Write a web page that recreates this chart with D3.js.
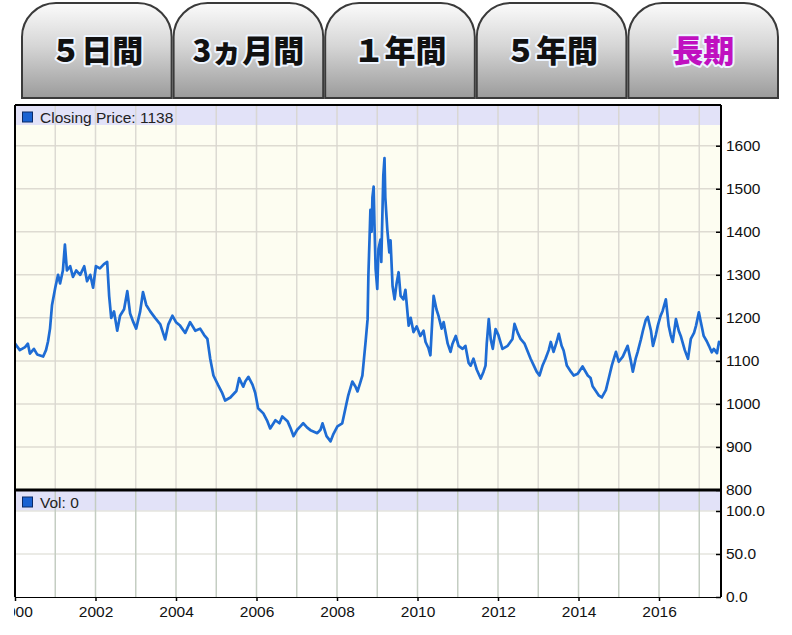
<!DOCTYPE html>
<meta charset="utf-8">
<script src="https://d3js.org/d3.v7.min.js"></script>
<style>
  body { margin: 0; background: #fff; }
  svg text { font-family: "Liberation Sans", Arial, sans-serif; }
</style>
<div id="chart"></div>
<script>

// tabs
var tabLabels = ["５日間", "3ヵ月間", "１年間", "５年間", "長期"];
var activeTab = "長期";

// closing price (decimal year / price)
var years = [
  2000.00, 2000.12, 2000.25, 2000.32, 2000.37, 2000.47, 2000.55, 2000.70, 2000.77, 2000.82,
  2000.87, 2000.92, 2001.00, 2001.07, 2001.12, 2001.19, 2001.24, 2001.29, 2001.37, 2001.44,
  2001.52, 2001.62, 2001.72, 2001.79, 2001.87, 2001.94, 2002.01, 2002.11, 2002.21, 2002.29,
  2002.34, 2002.39, 2002.46, 2002.54, 2002.61, 2002.71, 2002.79, 2002.86, 2002.94, 2003.01,
  2003.11, 2003.18, 2003.26, 2003.36, 2003.48, 2003.61, 2003.73, 2003.81, 2003.91, 2004.00,
  2004.10, 2004.23, 2004.35, 2004.48, 2004.60, 2004.70, 2004.78, 2004.85, 2004.93, 2005.05,
  2005.15, 2005.22, 2005.35, 2005.50, 2005.57, 2005.67, 2005.72, 2005.80, 2005.90, 2005.97,
  2006.04, 2006.17, 2006.27, 2006.34, 2006.47, 2006.57, 2006.64, 2006.77, 2006.84, 2006.92,
  2007.01, 2007.09, 2007.16, 2007.26, 2007.34, 2007.44, 2007.51, 2007.59, 2007.64, 2007.74,
  2007.84, 2007.91, 2008.01, 2008.13, 2008.21, 2008.28, 2008.38, 2008.46, 2008.51, 2008.58,
  2008.63, 2008.71, 2008.76, 2008.78, 2008.81, 2008.83, 2008.86, 2008.88, 2008.91, 2008.93,
  2008.96, 2009.00, 2009.03, 2009.08, 2009.10, 2009.13, 2009.15, 2009.18, 2009.20, 2009.25,
  2009.30, 2009.33, 2009.38, 2009.43, 2009.48, 2009.53, 2009.58, 2009.65, 2009.70, 2009.78,
  2009.83, 2009.90, 2009.98, 2010.07, 2010.15, 2010.20, 2010.27, 2010.32, 2010.37, 2010.40,
  2010.47, 2010.52, 2010.60, 2010.65, 2010.75, 2010.82, 2010.87, 2010.95, 2011.02, 2011.12,
  2011.19, 2011.27, 2011.32, 2011.39, 2011.47, 2011.57, 2011.64, 2011.69, 2011.72, 2011.77,
  2011.82, 2011.87, 2011.94, 2012.01, 2012.11, 2012.24, 2012.36, 2012.41, 2012.49, 2012.56,
  2012.66, 2012.74, 2012.81, 2012.89, 2012.96, 2013.03, 2013.11, 2013.18, 2013.26, 2013.31,
  2013.38, 2013.46, 2013.51, 2013.58, 2013.63, 2013.71, 2013.81, 2013.88, 2013.98, 2014.10,
  2014.23, 2014.30, 2014.35, 2014.43, 2014.50, 2014.58, 2014.68, 2014.75, 2014.83, 2014.93,
  2015.00, 2015.10, 2015.22, 2015.30, 2015.35, 2015.42, 2015.47, 2015.55, 2015.60, 2015.67,
  2015.72, 2015.80, 2015.85, 2015.92, 2015.97, 2016.04, 2016.09, 2016.17, 2016.24, 2016.29,
  2016.34, 2016.42, 2016.49, 2016.54, 2016.64, 2016.72, 2016.79, 2016.87, 2016.92, 2016.99,
  2017.04, 2017.11, 2017.19, 2017.24, 2017.31, 2017.36, 2017.44, 2017.49, 2017.54
];
var closes = [
  1140, 1125, 1132, 1140, 1117, 1128, 1115, 1110, 1125, 1145,
  1175, 1230, 1270, 1300, 1280, 1310, 1370, 1310, 1320, 1295,
  1310, 1300, 1320, 1285, 1300, 1270, 1320, 1315, 1325, 1330,
  1250, 1200, 1215, 1170, 1205, 1220, 1262, 1210, 1190, 1175,
  1215, 1260, 1230, 1215, 1200, 1185, 1150, 1185, 1205, 1190,
  1182, 1165, 1190, 1170, 1175, 1160, 1151, 1105, 1066, 1043,
  1025, 1008, 1015, 1030, 1060, 1040, 1052, 1063, 1045, 1025,
  990, 978, 960, 943, 962, 955, 971, 960, 945, 925,
  940, 948, 955, 945, 939, 935, 932, 940, 955, 925,
  913, 930, 948, 955, 990, 1020, 1052, 1040, 1029, 1050,
  1066, 1144, 1197, 1300, 1389, 1451, 1400, 1480, 1505, 1420,
  1313, 1267, 1360, 1382, 1330, 1450, 1530, 1571, 1480, 1405,
  1352, 1380, 1274, 1243, 1280, 1306, 1251, 1243, 1265, 1182,
  1200, 1167, 1180, 1158, 1170, 1144, 1130, 1113, 1200, 1251,
  1220, 1205, 1175, 1190, 1140, 1121, 1140, 1158, 1135, 1128,
  1135, 1095, 1089, 1105, 1080, 1059, 1075, 1089, 1140, 1197,
  1150, 1128, 1174, 1160, 1128, 1135, 1151, 1186, 1165, 1151,
  1140, 1121, 1105, 1089, 1075, 1066, 1090, 1105, 1125, 1144,
  1121, 1145, 1163, 1135, 1124, 1089, 1075, 1066, 1070, 1087,
  1066, 1060, 1041, 1030, 1020, 1015, 1032, 1059, 1090, 1121,
  1098, 1110, 1135, 1100, 1075, 1105, 1121, 1150, 1170, 1195,
  1202, 1170, 1135, 1160, 1182, 1205, 1216, 1243, 1182, 1160,
  1144, 1197, 1170, 1158, 1125, 1105, 1151, 1165, 1182, 1213,
  1190, 1158, 1145, 1135, 1120, 1128, 1118, 1144, 1138
];

var priceTicks = [800, 900, 1000, 1100, 1200, 1300, 1400, 1500, 1600];
var volTicks = [0, 50, 100];
var yearTicks = [2000, 2002, 2004, 2006, 2008, 2010, 2012, 2014, 2016];
var gridYears = [2001, 2002, 2003, 2004, 2005, 2006, 2007, 2008, 2009, 2010, 2011, 2012, 2013, 2014, 2015, 2016, 2017];
var priceLegend = "Closing Price: 1138";
var volLegend = "Vol: 0";

var W = 792, H = 635;
var plotLeft = 15, plotRight = 721, plotTop = 105, split = 490, plotBottom = 597;

var svg = d3.select("#chart").append("svg")
    .attr("width", W)
    .attr("height", H);

var defs = svg.append("defs");
var grad = defs.append("linearGradient")
    .attr("id", "tabGrad")
    .attr("x1", 0).attr("y1", 0).attr("x2", 0).attr("y2", 1);
grad.append("stop").attr("offset", "0%").attr("stop-color", "#fbfbfb");
grad.append("stop").attr("offset", "45%").attr("stop-color", "#d6d6d6");
grad.append("stop").attr("offset", "100%").attr("stop-color", "#9b9b9b");

defs.append("clipPath").attr("id", "xclip")
  .append("rect").attr("x", plotLeft - 1).attr("y", 0).attr("width", W).attr("height", H);

// ---- tabs
var tabX = d3.scaleBand()
    .domain(tabLabels)
    .range([22, 778])
    .paddingInner(0.013);

var r = 34, ty0 = 3, ty1 = 98;
function tabPath(x0, w) {
  var x1 = x0 + w;
  return "M" + x0 + "," + ty1 +
    " L" + x0 + "," + (ty0 + r) +
    " A" + r + "," + r + " 0 0 1 " + (x0 + r) + "," + ty0 +
    " L" + (x1 - r) + "," + ty0 +
    " A" + r + "," + r + " 0 0 1 " + x1 + "," + (ty0 + r) +
    " L" + x1 + "," + ty1 + " Z";
}

var tabs = svg.append("g").selectAll("g.tab")
  .data(tabLabels)
  .enter().append("g")
    .attr("class", "tab");

tabs.append("path")
    .attr("d", function(d) { return tabPath(tabX(d), tabX.bandwidth()); })
    .attr("fill", "url(#tabGrad)")
    .attr("stroke", "#3a3a3a")
    .attr("stroke-width", 2);

tabs.append("text")
    .attr("x", function(d) { return tabX(d) + tabX.bandwidth() / 2; })
    .attr("y", 48)
    .attr("text-anchor", "middle")
    .attr("dominant-baseline", "central")
    .style("font-family", "'Noto Sans CJK JP', sans-serif")
    .style("font-weight", "900")
    .style("font-size", "31px")
    .style("paint-order", "stroke")
    .attr("stroke", "#eef5ff")
    .attr("stroke-width", 4)
    .attr("stroke-linejoin", "round")
    .attr("fill", function(d) { return d == activeTab ? "#c010c0" : "#111"; })
    .text(function(d) { return d; });

// ---- scales
var x = d3.scaleLinear().domain([2000, 2017.54]).range([plotLeft, plotRight]);
var yPrice = d3.scaleLinear().domain([800, 1600]).range([split, 145.7]);
var yVol = d3.scaleLinear().domain([0, 100]).range([plotBottom, 511]);

// ---- price panel
svg.append("rect")
    .attr("x", plotLeft).attr("y", plotTop)
    .attr("width", plotRight - plotLeft).attr("height", split - plotTop)
    .attr("fill", "#fdfdf1");
svg.append("rect")
    .attr("x", plotLeft).attr("y", plotTop)
    .attr("width", plotRight - plotLeft - 1).attr("height", 20)
    .attr("fill", "#e2e2f8");

svg.append("g").selectAll("line")
  .data(priceTicks.slice(1))
  .enter().append("line")
    .attr("x1", plotLeft).attr("x2", plotRight)
    .attr("y1", function(d) { return yPrice(d); })
    .attr("y2", function(d) { return yPrice(d); })
    .attr("stroke", "#dedbd2")
    .attr("stroke-width", 1.5);

svg.append("g").selectAll("line")
  .data(gridYears)
  .enter().append("line")
    .attr("x1", function(d) { return x(d); })
    .attr("x2", function(d) { return x(d); })
    .attr("y1", plotTop).attr("y2", split)
    .attr("stroke", "#d8d6cf")
    .attr("stroke-opacity", 0.9)
    .attr("stroke-width", 1.5);

svg.append("path")
    .datum(years.map(function(d, i) { return [d, closes[i]]; }))
    .attr("fill", "none")
    .attr("stroke", "#1e6cd4")
    .attr("stroke-width", 2.7)
    .attr("stroke-linejoin", "round")
    .attr("d", d3.line()
      .x(function(d) { return x(d[0]); })
      .y(function(d) { return yPrice(d[1]); }));

// ---- volume panel
svg.append("rect")
    .attr("x", plotLeft).attr("y", split)
    .attr("width", plotRight - plotLeft).attr("height", plotBottom - split)
    .attr("fill", "#fff");
svg.append("rect")
    .attr("x", plotLeft).attr("y", split + 1)
    .attr("width", plotRight - plotLeft - 1).attr("height", 20)
    .attr("fill", "#e2e2f8");

svg.append("g").selectAll("line")
  .data(volTicks.slice(1))
  .enter().append("line")
    .attr("x1", plotLeft).attr("x2", plotRight)
    .attr("y1", function(d) { return yVol(d); })
    .attr("y2", function(d) { return yVol(d); })
    .attr("stroke", "#e4e4de")
    .attr("stroke-width", 1.5);

svg.append("g").selectAll("line")
  .data(gridYears)
  .enter().append("line")
    .attr("x1", function(d) { return x(d); })
    .attr("x2", function(d) { return x(d); })
    .attr("y1", split).attr("y2", plotBottom)
    .attr("stroke", "#c4cdc2")
    .attr("stroke-width", 1.5);

// ---- frame
svg.append("line").attr("x1", plotLeft).attr("x2", plotLeft).attr("y1", plotTop).attr("y2", plotBottom)
    .attr("stroke", "#000").attr("stroke-width", 2);
svg.append("line").attr("x1", plotLeft).attr("x2", plotRight).attr("y1", plotTop).attr("y2", plotTop)
    .attr("stroke", "#000").attr("stroke-width", 2);
svg.append("line").attr("x1", plotLeft).attr("x2", plotRight).attr("y1", split).attr("y2", split)
    .attr("stroke", "#000").attr("stroke-width", 3);

// ---- axes
var yAxisPrice = d3.axisRight(yPrice)
    .tickValues(priceTicks)
    .tickFormat(d3.format("d"))
    .tickSize(-5)
    .tickPadding(5);
var gp = svg.append("g")
    .attr("transform", "translate(" + plotRight + ",0)")
    .call(yAxisPrice);
gp.select(".domain").attr("d", "M0," + plotTop + "V" + split).attr("stroke-width", 2);

var yAxisVol = d3.axisRight(yVol)
    .tickValues(volTicks)
    .tickFormat(d3.format(".1f"))
    .tickSize(-5)
    .tickPadding(5);
var gv = svg.append("g")
    .attr("transform", "translate(" + plotRight + ",0)")
    .call(yAxisVol);
gv.select(".domain").attr("d", "M0," + split + "V" + plotBottom).attr("stroke-width", 2);

var xAxis = d3.axisBottom(x)
    .tickValues(yearTicks)
    .tickFormat(d3.format("d"))
    .tickSize(4)
    .tickPadding(5);
var gx = svg.append("g")
    .attr("transform", "translate(0," + plotBottom + ")")
    .attr("clip-path", "url(#xclip)")
    .call(xAxis);
gx.select(".domain").attr("d", "M" + plotLeft + ",0H" + plotRight).attr("stroke-width", 2);

svg.selectAll(".tick text")
    .style("font-family", "'Liberation Sans', Arial, sans-serif")
    .style("font-size", "15.5px")
    .attr("fill", "#111");
svg.selectAll(".tick line").attr("stroke", "#000").attr("stroke-width", 1.5);

// ---- legends
var legends = [
  {label: priceLegend, y: 112},
  {label: volLegend, y: 497}
];
var lg = svg.append("g").selectAll("g")
  .data(legends)
  .enter().append("g");
lg.append("rect")
    .attr("x", 22.5).attr("y", function(d) { return d.y; })
    .attr("width", 10).attr("height", 10)
    .attr("fill", "#1a62d2")
    .attr("stroke", "#0b2a66")
    .attr("stroke-width", 1);
lg.append("text")
    .attr("x", 40)
    .attr("y", function(d) { return d.y + 11; })
    .style("font-size", "15.5px")
    .attr("fill", "#222")
    .text(function(d) { return d.label; });

</script>
